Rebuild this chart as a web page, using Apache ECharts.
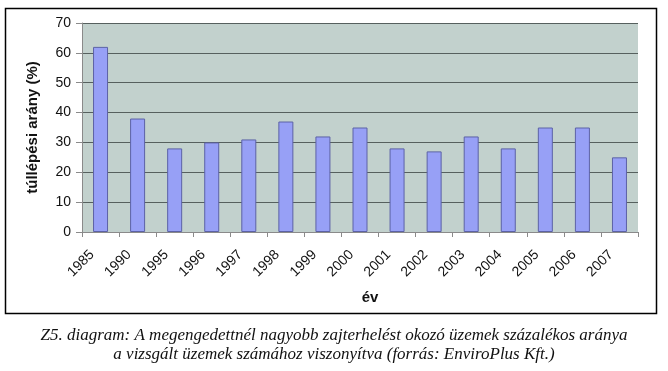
<!DOCTYPE html>
<html><head><meta charset="utf-8">
<script src="https://cdn.jsdelivr.net/npm/echarts@6/dist/echarts.min.js"></script>
<style>html,body{margin:0;padding:0;background:#fff}#c{width:668px;height:371px}</style>
</head><body><div id="c"></div>
<script>
const categories = ['1985','1990','1995','1996','1997','1998','1999','2000','2001','2002','2003','2004','2005','2006','2007'];
const values = [62, 38, 28, 30, 31, 37, 32, 35, 28, 27, 32, 28, 35, 35, 25];
const yTicks = [0, 10, 20, 30, 40, 50, 60, 70];
const yTitle = 'túllépési arány (%)';
const xTitle = 'év';
const caption1 = 'Z5. diagram: A megengedettnél nagyobb zajterhelést okozó üzemek százalékos aránya';
const caption2 = 'a vizsgált üzemek számához viszonyítva (forrás: EnviroPlus Kft.)';

const chart = echarts.init(document.getElementById('c'));
chart.setOption({
  animation: false,
  backgroundColor: '#fff',
  grid: { left: 82, right: 30, top: 23, bottom: 139, show: true, backgroundColor: '#c2d1cd', borderWidth: 0 },
  graphic: [
    { type: 'rect', shape: { x: 5.5, y: 8.5, width: 651, height: 305 }, style: { fill: 'none', stroke: '#000', lineWidth: 1.5 }, z: -1 },
    { type: 'text', x: 334, y: 336, style: { text: caption1, font: 'italic 17px "Liberation Serif", "DejaVu Serif", serif', fill: '#111', align: 'center', verticalAlign: 'middle' } },
    { type: 'text', x: 334, y: 355, style: { text: caption2, font: 'italic 17px "Liberation Serif", "DejaVu Serif", serif', fill: '#111', align: 'center', verticalAlign: 'middle' } }
  ],
  xAxis: {
    type: 'category', data: categories, boundaryGap: true,
    name: xTitle, nameLocation: 'middle', nameGap: 58,
    nameTextStyle: { fontFamily: 'Liberation Sans, Arial, sans-serif', fontWeight: 'bold', fontSize: 15, color: '#111', padding: [0, 0, 0, 20] },
    axisLine: { lineStyle: { color: '#8a8a8a', width: 1 } },
    axisTick: { show: true, length: 5, lineStyle: { color: '#8a8a8a' }, alignWithLabel: false },
    axisLabel: { rotate: 45, fontFamily: 'Liberation Sans, Arial, sans-serif', fontSize: 14, color: '#111', margin: 12, interval: 0, padding: [0, 12, 0, 0] },
    splitLine: { show: false }
  },
  yAxis: {
    type: 'value', min: 0, max: 70, interval: 10,
    name: yTitle, nameLocation: 'middle', nameGap: 42, nameRotate: 90,
    nameTextStyle: { fontFamily: 'Liberation Sans, Arial, sans-serif', fontWeight: 'bold', fontSize: 15, color: '#111' },
    axisLine: { show: true, lineStyle: { color: '#8a8a8a' } },
    axisTick: { show: true, length: 6, lineStyle: { color: '#8a8a8a' } },
    axisLabel: { fontFamily: 'Liberation Sans, Arial, sans-serif', fontSize: 14, color: '#111', margin: 11,
      formatter: v => yTicks.includes(v) ? String(v) : '' },
    splitLine: { show: true, lineStyle: { color: '#56605e', width: 1 } }
  },
  series: [{
    type: 'bar', data: values, barWidth: 15,
    itemStyle: { color: '#97a0f6', borderColor: '#5c62a6', borderWidth: 1 }
  }]
});
</script></body></html>
